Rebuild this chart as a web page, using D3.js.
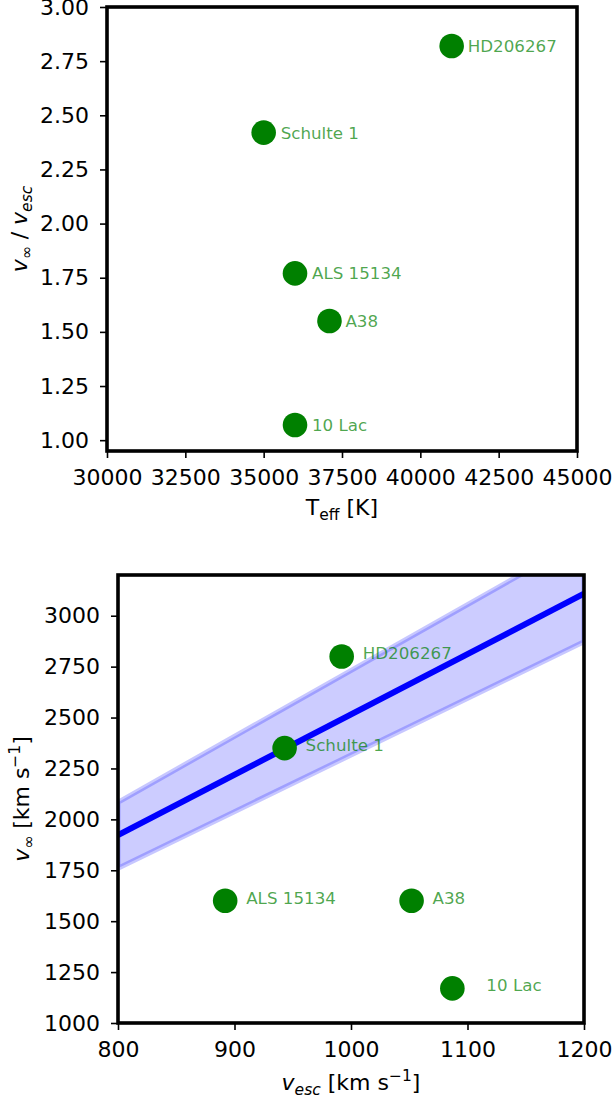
<!DOCTYPE html>
<html>
<head>
<meta charset="utf-8">
<script src="https://cdn.jsdelivr.net/npm/d3@7"></script>
<style>
  html, body { margin: 0; padding: 0; background: #fff; }
  svg text { font-family: "DejaVu Sans", sans-serif; }
</style>
</head>
<body>
<svg id="fig" width="614" height="1101"></svg>
<script>
// Stars shown in both panels
const starNames = ["HD206267", "Schulte 1", "ALS 15134", "A38", "10 Lac"];
// Upper panel: effective temperature vs terminal / escape velocity ratio
const teff = [41000, 35000, 36000, 37100, 36000];
const vRatio = [2.82, 2.42, 1.77, 1.55, 1.07];
// Lower panel: escape velocity vs terminal velocity (km/s)
const vEsc = [992, 943, 892, 1052, 1087];
const vInf = [2800, 2350, 1600, 1600, 1170];
// Linear relation with its uncertainty band, at the ends of the v_esc range
const fitVesc = [800, 1200];
const fitVinf = [1923, 3108];
const fitUpper = [2084, 3378];
const fitLower = [1760, 2872];
// Tick values
const teffTicks = [30000, 32500, 35000, 37500, 40000, 42500, 45000];
const ratioTicks = [1.00, 1.25, 1.50, 1.75, 2.00, 2.25, 2.50, 2.75, 3.00];
const vEscTicks = [800, 900, 1000, 1100, 1200];
const vInfTicks = [1000, 1250, 1500, 1750, 2000, 2250, 2500, 2750, 3000];
// Label nudges (px) to the right of each marker
const topLabelDx = [16, 17, 17, 16, 17];
const bottomLabelDx = [21, 21, 21, 21, 34];

const svg = d3.select("#fig");
const TICK_FS = 22, LABEL_FS = 22, SUB_FS = 15.5, ANN_FS = 16.7;

function panel(opts) {
  const { x, y, xTicks, yTicks, xFmt, yFmt, id } = opts;
  const [x0, x1] = x.range();
  const [y0, y1] = y.range(); // y0 bottom, y1 top
  const g = svg.append("g");

  g.append("clipPath").attr("id", id)
    .append("rect").attr("x", x0).attr("y", y1)
    .attr("width", x1 - x0).attr("height", y0 - y1);

  const xAxis = d3.axisBottom(x).tickValues(xTicks).tickFormat(xFmt)
    .tickSize(7).tickPadding(6);
  const yAxis = d3.axisLeft(y).tickValues(yTicks).tickFormat(yFmt)
    .tickSize(7).tickPadding(11);

  const gx = g.append("g").attr("transform", `translate(0,${y0})`).call(xAxis);
  const gy = g.append("g").attr("transform", `translate(${x0},0)`).call(yAxis);
  [gx, gy].forEach(a => {
    a.select(".domain").remove();
    a.selectAll(".tick line").attr("stroke", "#000").attr("stroke-width", 1.6);
    a.selectAll(".tick text").attr("font-size", TICK_FS).attr("fill", "#000")
      .attr("font-family", "DejaVu Sans");
  });
  gx.selectAll(".tick text").attr("dy", "0.95em");

  const plot = g.append("g").attr("clip-path", `url(#${id})`);
  return { g, plot, frame: () => g.append("rect")
      .attr("x", x0).attr("y", y1).attr("width", x1 - x0).attr("height", y0 - y1)
      .attr("fill", "none").attr("stroke", "#000").attr("stroke-width", 3.6) };
}

function drawStars(plot, g, x, y, xs, ys, dxs, dy) {
  plot.selectAll("circle.star").data(starNames).join("circle")
    .attr("class", "star")
    .attr("cx", (d, i) => x(xs[i])).attr("cy", (d, i) => y(ys[i]))
    .attr("r", 12.3).attr("fill", "green");
  g.selectAll("text.ann").data(starNames).join("text")
    .attr("class", "ann")
    .attr("x", (d, i) => x(xs[i]) + dxs[i])
    .attr("y", (d, i) => y(ys[i]) + dy)
    .attr("dy", "0.36em")
    .attr("font-size", ANN_FS).attr("fill", "green").attr("fill-opacity", 0.7)
    .text(d => d);
}

// ---------- Upper panel ----------
{
  const x = d3.scaleLinear().domain([30000, 45000]).range([107, 577]);
  const y = d3.scaleLinear().domain([0.95, 3.0]).range([451, 7]);
  const p = panel({ x, y, xTicks: teffTicks, yTicks: ratioTicks,
    xFmt: d3.format("d"), yFmt: d3.format(".2f"), id: "clipTop" });
  drawStars(p.plot, p.g, x, y, teff, vRatio, topLabelDx, 0);
  p.frame();

  // x label: T_eff [K]
  const xl = svg.append("text").attr("x", 342).attr("y", 515)
    .attr("text-anchor", "middle").attr("font-size", LABEL_FS);
  xl.append("tspan").text("T");
  xl.append("tspan").attr("font-size", SUB_FS).attr("dy", 5).text("eff");
  xl.append("tspan").attr("dy", -5).text(" [K]");

  // y label: v_inf / v_esc
  const yl = svg.append("text")
    .attr("transform", "translate(27,229) rotate(-90)")
    .attr("text-anchor", "middle").attr("font-size", LABEL_FS);
  yl.append("tspan").attr("font-style", "italic").text("v");
  yl.append("tspan").attr("font-size", SUB_FS).attr("dy", 5).text("∞");
  yl.append("tspan").attr("dy", -5).text(" / ");
  yl.append("tspan").attr("font-style", "italic").text("v");
  yl.append("tspan").attr("font-style", "italic").attr("font-size", SUB_FS).attr("dy", 5).text("esc");
}

// ---------- Lower panel ----------
{
  const x = d3.scaleLinear().domain([800, 1200]).range([118, 584]);
  const y = d3.scaleLinear().domain([1000, 3200]).range([1023, 575]);
  const p = panel({ x, y, xTicks: vEscTicks, yTicks: vInfTicks,
    xFmt: d3.format("d"), yFmt: d3.format("d"), id: "clipBot" });

  const band = fitVesc.map((v, i) => ({ v, lo: fitLower[i], hi: fitUpper[i] }));
  p.plot.append("path").datum(band)
    .attr("d", d3.area().x(d => x(d.v)).y0(d => y(d.lo)).y1(d => y(d.hi)))
    .attr("fill", "blue").attr("fill-opacity", 0.2)
    .attr("stroke", "blue").attr("stroke-opacity", 0.22).attr("stroke-width", 5);

  p.plot.append("path").datum(fitVesc.map((v, i) => [v, fitVinf[i]]))
    .attr("d", d3.line().x(d => x(d[0])).y(d => y(d[1])))
    .attr("stroke", "blue").attr("stroke-width", 6).attr("fill", "none");

  drawStars(p.plot, p.g, x, y, vEsc, vInf, bottomLabelDx, -3);
  p.frame();

  // x label: v_esc [km s^-1]
  const xl = svg.append("text").attr("x", 351).attr("y", 1090)
    .attr("text-anchor", "middle").attr("font-size", LABEL_FS);
  xl.append("tspan").attr("font-style", "italic").text("v");
  xl.append("tspan").attr("font-style", "italic").attr("font-size", SUB_FS).attr("dy", 5).text("esc");
  xl.append("tspan").attr("dy", -5).text(" [km s");
  xl.append("tspan").attr("font-size", SUB_FS).attr("dy", -9).text("−1");
  xl.append("tspan").attr("dy", 9).text("]");

  // y label: v_inf [km s^-1]
  const yl = svg.append("text")
    .attr("transform", "translate(29,799) rotate(-90)")
    .attr("text-anchor", "middle").attr("font-size", LABEL_FS);
  yl.append("tspan").attr("font-style", "italic").text("v");
  yl.append("tspan").attr("font-size", SUB_FS).attr("dy", 5).text("∞");
  yl.append("tspan").attr("dy", -5).text(" [km s");
  yl.append("tspan").attr("font-size", SUB_FS).attr("dy", -9).text("−1");
  yl.append("tspan").attr("dy", 9).text("]");
}
</script>
</body>
</html>
